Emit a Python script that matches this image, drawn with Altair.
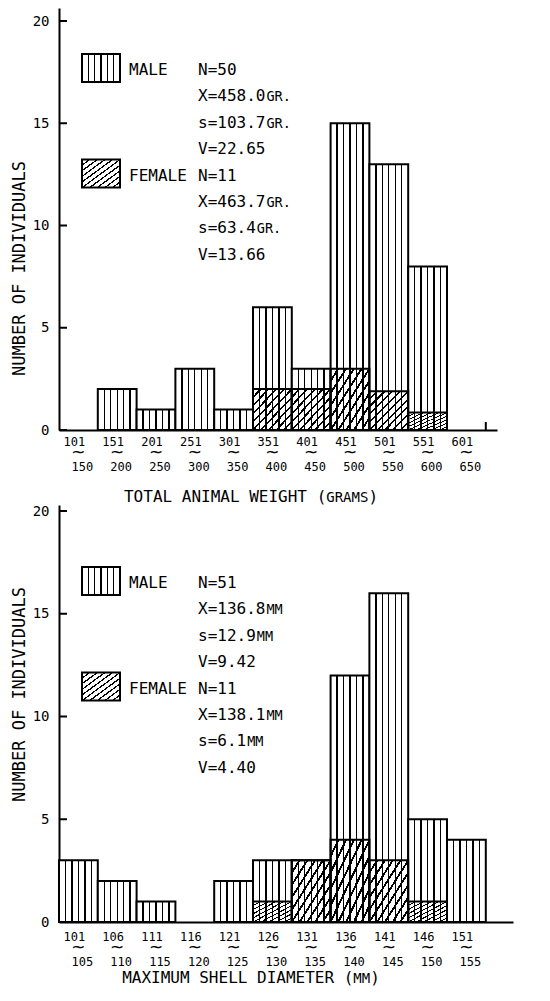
import re
import altair as alt
import pandas as pd

# ---------------- data ----------------
weight_lo = ["101", "151", "201", "251", "301", "351", "401", "451", "501", "551", "601"]
weight_hi = ["150", "200", "250", "300", "350", "400", "450", "500", "550", "600", "650"]
weight_total = [0, 2, 1, 3, 1, 6, 3, 15, 13, 8, 0]
weight_female = [0, 0, 0, 0, 0, 2, 2, 3, 1.9, 0.85, 0]
weight_male_stats = ["N=50", "X=458.0GR.", "s=103.7GR.", "V=22.65"]
weight_female_stats = ["N=11", "X=463.7GR.", "s=63.4GR.", "V=13.66"]

shell_lo = ["101", "106", "111", "116", "121", "126", "131", "136", "141", "146", "151"]
shell_hi = ["105", "110", "115", "120", "125", "130", "135", "140", "145", "150", "155"]
shell_total = [3, 2, 1, 0, 2, 3, 3, 12, 16, 5, 4]
shell_female = [0, 0, 0, 0, 0, 1, 3, 4, 3, 1, 0]
shell_male_stats = ["N=51", "X=136.8MM", "s=12.9MM", "V=9.42"]
shell_female_stats = ["N=11", "X=138.1MM", "s=6.1MM", "V=4.40"]

y_tick_values = [0, 5, 10, 15, 20]
y_title = "NUMBER OF INDIVIDUALS"
weight_title = "TOTAL ANIMAL WEIGHT (GRAMS)"
shell_title = "MAXIMUM SHELL DIAMETER (MM)"

# ---------------- style ----------------
FONT = "DejaVu Sans Mono"
INK = "black"
LINE = 26.4
ADV = 0.602  # advance width of DejaVu Sans Mono, in em


def stripe_stops(n, hw, bg, fg):
    stops = [alt.GradientStop(color=bg, offset=0)]
    for k in range(1, n):
        o = k / n
        stops += [
            alt.GradientStop(color=bg, offset=o - hw),
            alt.GradientStop(color=fg, offset=o - hw),
            alt.GradientStop(color=fg, offset=o + hw),
            alt.GradientStop(color=bg, offset=o + hw),
        ]
    stops.append(alt.GradientStop(color=bg, offset=1))
    return stops


VERT = alt.LinearGradient(gradient="linear", stops=stripe_stops(6, 0.018, "white", INK),
                          x1=0, x2=1, y1=0, y2=0)
DIAG = alt.LinearGradient(gradient="linear", stops=stripe_stops(10, 0.014, "rgba(255,255,255,0)", INK),
                          x1=0, x2=1, y1=0, y2=1)
DIAG_W = alt.LinearGradient(gradient="linear", stops=stripe_stops(10, 0.014, "white", INK),
                            x1=0, x2=1, y1=0, y2=1)

one = pd.DataFrame({"k": [0]})


def txt(s, x, y, size, align="left"):
    return alt.Chart(one).mark_text(font=FONT, fontSize=size, color=INK, align=align,
                                    baseline="middle").encode(
        x=alt.value(x), y=alt.value(y), text=alt.value(s))


def panel(lo, hi, total, female, mstats, fstats, w, h, xmax, ymax, xtitle,
          ytitle_y, xtitle_y, row1, leg0, end_tick):
    n = len(lo)
    df = pd.DataFrame({"lo": lo, "hi": hi, "total": total, "female": female})
    df["x0"] = list(range(n))
    df["x1"] = df["x0"] + 1
    df["mid"] = df["x0"] + 0.5
    df["zero"] = 0
    xs = alt.Scale(domain=[0, xmax], nice=False, zero=False)
    ys = alt.Scale(domain=[0, ymax], nice=False, zero=True)
    xax = alt.Axis(labels=False, ticks=False, grid=False, domainColor=INK, domainWidth=2,
                   title=None)
    yax = alt.Axis(
        values=y_tick_values, ticks=False, grid=False, domainColor=INK, domainWidth=2,
        labelFont=FONT, labelFontSize=14, labelColor=INK, labelPadding=10,
        title=y_title, titleFont=FONT, titleFontSize=17, titleFontWeight="normal",
        titleColor=INK, titleX=-40, titleY=ytitle_y, titleAlign="center",
        titleBaseline="middle", titleAngle=270)
    base = alt.Chart(df)

    def xenc(field="mid:Q"):
        return alt.X(field, scale=xs, axis=xax, title=None)

    male = base.transform_filter("datum.total > 0").mark_rect(
        fill=VERT, stroke=INK, strokeWidth=2
    ).encode(
        x=xenc("x0:Q"), x2="x1:Q",
        y=alt.Y("total:Q", scale=ys, axis=yax, title=y_title), y2="zero:Q",
    )
    fem = base.transform_filter("datum.female > 0").mark_rect(
        fill=DIAG, stroke=INK, strokeWidth=2
    ).encode(
        x=xenc("x0:Q"), x2="x1:Q",
        y=alt.Y("female:Q", scale=ys, axis=yax, title=y_title), y2="zero:Q",
    )
    ticks = alt.Chart(pd.DataFrame({"v": y_tick_values})).mark_rule(
        color=INK, strokeWidth=2
    ).encode(y=alt.Y("v:Q", scale=ys, axis=yax, title=y_title), x=alt.value(0), x2=alt.value(8))

    lab1 = base.mark_text(font=FONT, fontSize=12, color=INK, dx=-4, baseline="middle").encode(
        x=xenc(), y=alt.value(h + row1), text="lo:N")
    tilde = base.mark_text(font="DejaVu Sans", fontSize=17, color=INK, baseline="middle").encode(
        x=xenc(), y=alt.value(h + row1 + 11), text=alt.value("~"))
    lab2 = base.mark_text(font=FONT, fontSize=12, color=INK, dx=4, baseline="middle").encode(
        x=xenc(), y=alt.value(h + row1 + 25), text="hi:N")

    layers = [male, fem, ticks, lab1, tilde, lab2]

    if end_tick:
        et = alt.Chart(pd.DataFrame({"e": [n]})).mark_rule(color=INK, strokeWidth=2).encode(
            x=xenc("e:Q"), y=alt.value(h), y2=alt.value(h - 8))
        layers.append(et)

    # x title: "... (" + small caps unit + ")"
    m = re.match(r"^(.*\()([A-Z]+)(\))$", xtitle)
    p1, unit, p3 = m.groups()
    big, small = 16, 14
    tw = (len(p1) + len(p3)) * ADV * big + len(unit) * ADV * small
    x0 = 192 - tw / 2
    ty = h + xtitle_y
    layers.append(txt(p1, x0, ty, big))
    x1 = x0 + len(p1) * ADV * big
    layers.append(txt(unit, x1, ty + 1, small))
    layers.append(txt(p3, x1 + len(unit) * ADV * small, ty, big))

    # legend swatches and labels
    for row, grad, name in [(0, VERT, "MALE"), (4, DIAG_W, "FEMALE")]:
        yc = leg0 + row * LINE
        layers.append(alt.Chart(one).mark_rect(fill=grad, stroke=INK, strokeWidth=2).encode(
            x=alt.value(23), x2=alt.value(61), y=alt.value(yc - 16), y2=alt.value(yc + 12)))
        layers.append(txt(name, 70, yc, 16))
    # statistics, units in small capitals
    for i, s in enumerate(mstats + fstats):
        yc = leg0 + i * LINE
        mm = re.match(r"^(.*\d)([A-Z.]+)$", s)
        if mm:
            main, u = mm.groups()
            layers.append(txt(main, 139, yc, 16))
            layers.append(txt(u, 139 + len(main) * ADV * 16 + 1, yc + 1, 13.5))
        else:
            layers.append(txt(s, 139, yc, 16))

    return alt.layer(*layers).properties(width=w, height=h)


top = panel(weight_lo, weight_hi, weight_total, weight_female, weight_male_stats,
            weight_female_stats, w=438, h=422, xmax=438 / 38.8, ymax=422 / 20.45,
            xtitle=weight_title, ytitle_y=260, xtitle_y=67, row1=12, leg0=62, end_tick=True)
bottom = panel(shell_lo, shell_hi, shell_total, shell_female, shell_male_stats,
               shell_female_stats, w=454, h=417, xmax=454 / 38.8, ymax=417 / 20.55,
               xtitle=shell_title, ytitle_y=189, xtitle_y=56, row1=15, leg0=78, end_tick=False)

chart = alt.vconcat(top, bottom, spacing=75, bounds="flush").properties(
    padding={"left": 2, "top": 0, "right": 5, "bottom": 5},
    background="white",
).configure_view(stroke=None)

chart.save("out.html", embed_options={"renderer": "svg", "actions": False})
